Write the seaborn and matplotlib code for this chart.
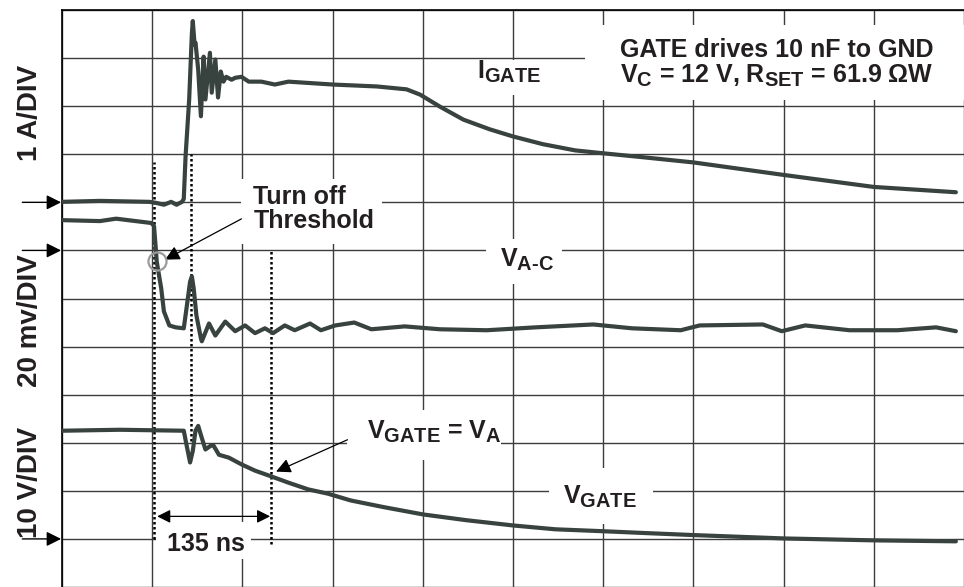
import matplotlib
matplotlib.use("Agg")
import matplotlib.pyplot as plt
import matplotlib._mathtext as mathtext_impl
from matplotlib.patches import Rectangle
import seaborn as sns

# Scope traces.
# x = grid divisions from the left edge, y = grid divisions from the bottom
igate_t = [0, 0.42, 0.97, 1.04, 1.13, 1.21, 1.27, 1.33, 1.35, 1.37, 1.41, 1.44, 1.45,
           1.47, 1.48, 1.51, 1.54, 1.57, 1.59, 1.64, 1.66, 1.70, 1.73, 1.76, 1.79,
           1.82, 1.88, 1.92, 1.99, 2.07, 2.21, 2.36, 2.51, 3.00, 3.49, 3.82, 3.97,
           4.19, 4.45, 4.74, 5.00, 5.33, 5.69, 6.00, 6.43, 7.00, 8.00, 9.00, 9.91]
igate_v = [8.01, 8.03, 8.01, 7.99, 7.95, 8.01, 7.95, 8.01, 8.07, 8.96, 10.14, 11.52, 11.77,
           11.28, 11.32, 10.76, 9.79, 11.03, 10.14, 11.11, 10.28, 10.97, 10.18, 10.72, 10.51,
           10.61, 10.55, 10.59, 10.61, 10.51, 10.51, 10.45, 10.51, 10.45, 10.41, 10.35, 10.24,
           9.99, 9.72, 9.52, 9.37, 9.21, 9.08, 9.02, 8.94, 8.83, 8.57, 8.32, 8.21]

vac_t = [0, 0.42, 0.60, 0.99, 1.02, 1.04, 1.05, 1.10, 1.13, 1.19, 1.26, 1.35, 1.38,
         1.42, 1.44, 1.46, 1.49, 1.54, 1.55, 1.63, 1.70, 1.81, 1.92, 2.03, 2.14, 2.25,
         2.34, 2.47, 2.58, 2.75, 2.87, 3.03, 3.24, 3.43, 3.80, 4.19, 4.71, 5.25, 5.89,
         6.32, 6.86, 7.07, 7.77, 7.98, 8.24, 8.73, 9.26, 9.69, 9.91]
vac_v = [7.63, 7.61, 7.66, 7.57, 7.51, 7.03, 6.77, 6.21, 5.73, 5.44, 5.40, 5.38, 5.79,
         6.35, 6.46, 6.21, 5.65, 5.17, 5.11, 5.48, 5.23, 5.52, 5.32, 5.44, 5.28, 5.38,
         5.28, 5.44, 5.34, 5.48, 5.34, 5.44, 5.50, 5.36, 5.42, 5.36, 5.34, 5.40, 5.46,
         5.38, 5.34, 5.44, 5.46, 5.32, 5.44, 5.34, 5.34, 5.40, 5.32]

vgate_t = [0, 0.64, 1.35, 1.38, 1.42, 1.45, 1.48, 1.51, 1.55, 1.59, 1.65, 1.68, 1.74,
           1.85, 1.99, 2.14, 2.32, 2.51, 2.73, 2.95, 3.20, 3.57, 4.00, 4.48, 5.00, 5.47,
           6.00, 6.49, 7.00, 8.00, 9.00, 9.91]
vgate_v = [3.25, 3.27, 3.25, 2.96, 2.59, 2.83, 3.25, 3.35, 3.10, 2.86, 2.94, 2.94, 2.75,
           2.69, 2.55, 2.42, 2.30, 2.17, 2.03, 1.94, 1.80, 1.66, 1.51, 1.39, 1.28, 1.20,
           1.16, 1.12, 1.08, 1.01, 0.97, 0.95]

# cursor positions (divisions)
cursor_t = [1.02, 1.43, 2.32]
cursor_top = [8.83, 9.00, 7.00]
cursor_bot = [0.99, 3.04, 0.89]
ref_levels = [8.0, 7.0, 1.0]   # channel ground markers on the left

TRACE = "#38423f"
INK = "#231f20"

sns.set_theme(style="white")
plt.rcParams["font.family"] = ["Liberation Sans", "DejaVu Sans"]
plt.rcParams["font.weight"] = "bold"
plt.rcParams["mathtext.fontset"] = "custom"
for k in ["rm", "it", "bf", "sf"]:
    plt.rcParams["mathtext." + k] = "Liberation Sans:bold"
plt.rcParams["mathtext.default"] = "bf"
# the subscripts in the scope shot are fairly large
mathtext_impl.SHRINK_FACTOR = 0.8

fig = plt.figure(figsize=(9.64, 5.87), dpi=100)
ax = fig.add_axes([62 / 964, 0, 902 / 964, 577 / 587])
ax.set_xlim(0, 902 / 91)
ax.set_ylim(3 / 48.33, 12)
ax.set_xticks(range(0, 11))
ax.set_yticks(range(0, 13))
ax.tick_params(length=0, labelbottom=False, labelleft=False)
ax.grid(True, color="#3c3c3c", lw=1.0)
ax.set_axisbelow(True)
for s in ["right", "bottom"]:
    ax.spines[s].set_visible(False)
for s in ["left", "top"]:
    ax.spines[s].set_color("black")
    ax.spines[s].set_linewidth(1.2)


def at(px, py):
    # reference-pixel position -> grid divisions
    return (px - 62) / 91, (590 - py) / 48.33


# white areas behind the labels (the grid is broken there)
for x0, y0, x1, y1 in [(590, 25, 975, 100), (470, 60, 556, 95), (490, 240, 566, 285),
                       (350, 412, 505, 462), (553, 470, 658, 527), (157, 525, 253, 562),
                       (243, 180, 385, 245)]:
    a = at(x0, y1)
    b = at(x1, y0)
    ax.add_patch(Rectangle(a, b[0] - a[0], b[1] - a[1], facecolor="white",
                           edgecolor="none", zorder=1))

for t, v in [(igate_t, igate_v), (vac_t, vac_v), (vgate_t, vgate_v)]:
    sns.lineplot(x=t, y=v, ax=ax, color=TRACE, lw=3.0, sort=False,
                 estimator=None, zorder=3)

for xc, y0, y1 in zip(cursor_t, cursor_bot, cursor_top):
    ax.plot([xc, xc], [y0, y1], color="black", lw=1.8, ls=(0, (1, 1)), zorder=2)

# ground reference arrows
for lv in ref_levels:
    ax.annotate("", xy=(-0.01, lv), xytext=(-0.44, lv), annotation_clip=False,
                arrowprops=dict(arrowstyle="-|>", color="black", lw=1.0,
                                mutation_scale=22, shrinkA=0, shrinkB=0))

for label, yc in [("1 A/DIV", 114), ("20 mv/DIV", 322), ("10 V/DIV", 485)]:
    ax.text(*at(30, yc), label, rotation=90, ha="center", va="center",
            fontsize=20, color=INK, clip_on=False)

fs = 18
ax.text(*at(625, 57), "GATE drives 10 nF to GND", fontsize=fs, color=INK, zorder=4)
ax.text(*at(625, 83), "$V_C$ = 12 V, $R_{SET}$ = 61.9 ΩW", fontsize=fs, color=INK, zorder=4)
ax.text(*at(481, 79), "$I_{GATE}$", fontsize=fs, color=INK, zorder=4)
ax.text(*at(504, 268), r"$V_{\text{A-C}}$", fontsize=fs, color=INK, zorder=4)
ax.text(*at(370, 441), "$V_{GATE}$ = $V_A$", fontsize=fs, color=INK, zorder=4)
ax.text(*at(567, 506), "$V_{GATE}$", fontsize=fs, color=INK, zorder=4)
ax.text(*at(168, 554), "135 ns", fontsize=fs, color=INK, zorder=4)
ax.text(*at(255, 205), "Turn off", fontsize=fs, color=INK, zorder=4)
ax.text(*at(255, 229), "Threshold", fontsize=fs, color=INK, zorder=4)

arrow = dict(arrowstyle="-|>", color="black", lw=0.9, mutation_scale=22,
             shrinkA=0, shrinkB=0)
ax.annotate("", xy=at(166, 261), xytext=at(243, 220), arrowprops=arrow, zorder=4)
ax.annotate("", xy=at(278, 474), xytext=at(350, 442), arrowprops=arrow, zorder=4)
ax.annotate("", xy=at(272, 519), xytext=at(158, 519), zorder=4,
            arrowprops=dict(arrowstyle="<|-|>", color="black", lw=0.9,
                            mutation_scale=20, shrinkA=0, shrinkB=0))

# threshold crossing marker
ax.plot(*at(158, 262), marker="o", ms=13, mfc="none", mec="#9a9a9a", mew=1.6, zorder=5)

fig.savefig("out.png", dpi=100)
